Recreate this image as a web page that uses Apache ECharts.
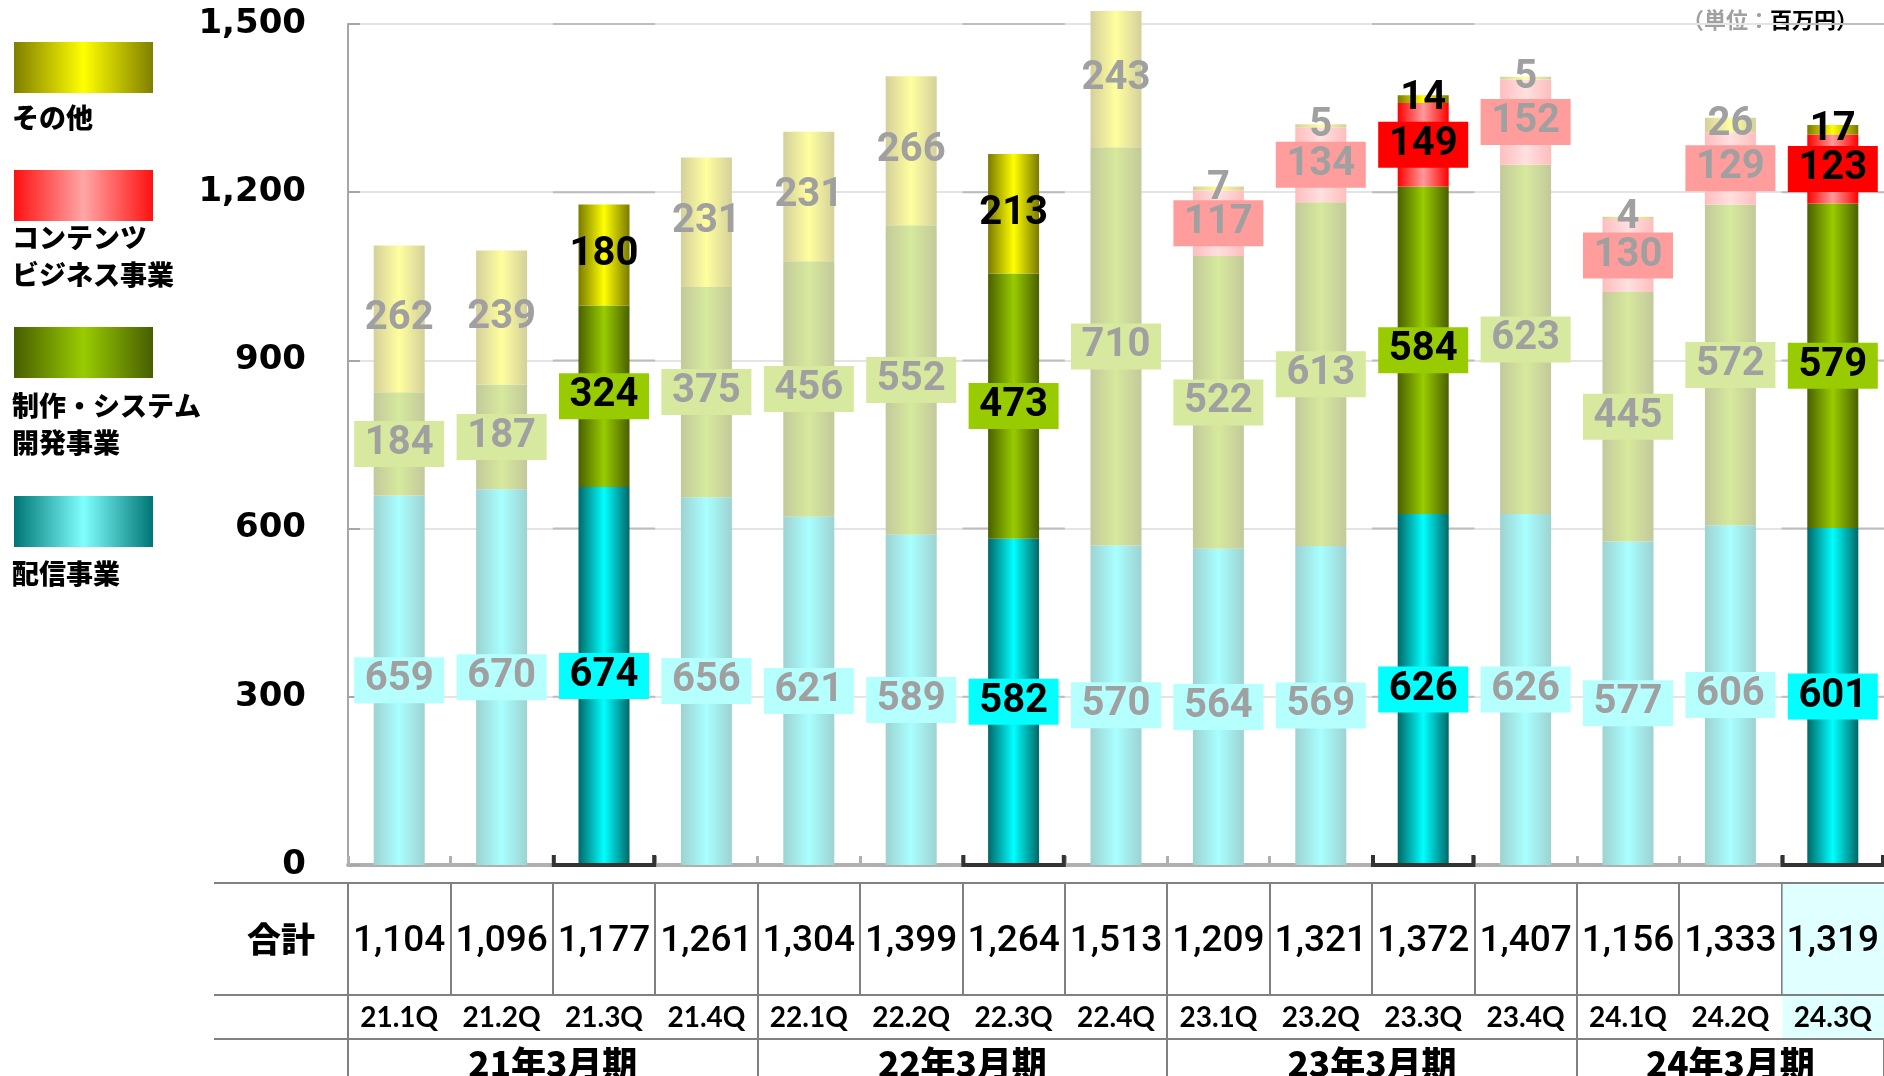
<!DOCTYPE html>
<html>
<head>
<meta charset="utf-8">
<script src="https://cdn.jsdelivr.net/npm/echarts@6/dist/echarts.min.js"></script>
<style>
  html, body { margin: 0; padding: 0; background: #fff; }
  #chart { width: 1884px; height: 1076px; }
</style>
</head>
<body>
<div id="chart"></div>
<script>
// ---- data (百万円) ----
const quarters = ['21.1Q','21.2Q','21.3Q','21.4Q','22.1Q','22.2Q','22.3Q','22.4Q','23.1Q','23.2Q','23.3Q','23.4Q','24.1Q','24.2Q','24.3Q'];
const fiscalYears = ['21年3月期','22年3月期','23年3月期','24年3月期'];
const distribution = [659, 670, 674, 656, 621, 589, 582, 570, 564, 569, 626, 626, 577, 606, 601];
const production   = [184, 187, 324, 375, 456, 552, 473, 710, 522, 613, 584, 623, 445, 572, 579];
const contents     = [null, null, null, null, null, null, null, null, 117, 134, 149, 152, 130, 129, 123];
const others       = [262, 239, 180, 231, 231, 266, 213, 243, 7, 5, 14, 5, 4, 26, 17];
const totals       = [1104, 1096, 1177, 1261, 1304, 1399, 1264, 1513, 1209, 1321, 1372, 1407, 1156, 1333, 1319];
const yTicks = [0, 300, 600, 900, 1200, 1500];
const focusQuarters = ['21.3Q','22.3Q','23.3Q','24.3Q'];
const currentQuarter = '24.3Q';
const seriesNames  = ['配信事業', '制作・システム開発事業', 'コンテンツビジネス事業', 'その他'];
const legendLabels = ['配信事業', '制作・システム\n開発事業', 'コンテンツ\nビジネス事業', 'その他'];
const totalLabel = '合計';
const unitLabel = ['（単位：', '百万円）'];

// ---- fonts ----
const NUM = 'Roboto,"Liberation Sans",sans-serif';
const CJK = '"Noto Sans CJK JP","Noto Sans CJK SC",sans-serif';
const GEO = '"DejaVu Sans",sans-serif';
const QFONT = 'Lato,"DejaVu Sans",sans-serif';

// ---- layout ----
const PLOT_LEFT = 348, PLOT_TOP = 24, AXIS_Y = 865;
const ROW1_TOP = 883, ROW2_TOP = 995, ROW3_TOP = 1039, H = 1076;
const TABLE_LEFT = 214;
const LINE = '#808080';

// ---- styling ----
const grad = (edge, mid) => new echarts.graphic.LinearGradient(0, 0, 1, 0, [
  { offset: 0, color: edge }, { offset: 0.5, color: mid }, { offset: 1, color: edge }
]);
const palette = [
  { strong: ['#006868', '#00ffff'], soft: ['#9ed2d2', '#a8ffff'], tagStrong: '#00ffff', tagSoft: '#b6ffff', legend: ['#007474', '#80ffff'] },
  { strong: ['#4a6000', '#99cc00'], soft: ['#c3c99b', '#d6e99c'], tagStrong: '#99cc00', tagSoft: '#d6e99f', legend: ['#475e00', '#99cc00'] },
  { strong: ['#ff0000', '#ff9a9a'], soft: ['#ffbdbd', '#ffe0e0'], tagStrong: '#ff0000', tagSoft: '#ff9d9d', legend: ['#ff1010', '#ffa6a6'] },
  { strong: ['#7a7a00', '#ffff00'], soft: ['#d4d09c', '#ffff9e'], tagStrong: null, tagSoft: null, legend: ['#7f7f00', '#ffff00'] }
];
const isFocus = i => focusQuarters.includes(quarters[i]);

function barSeries(idx, values) {
  const pal = palette[idx];
  return {
    name: seriesNames[idx], type: 'bar', stack: 'total', barWidth: 51, clip: false,
    xAxisIndex: 0, yAxisIndex: 0, z: 3,
    emphasis: { disabled: true },
    data: values.map((v, i) => {
      if (v == null) return '-';
      const hl = isFocus(i);
      const tag = hl ? pal.tagStrong : pal.tagSoft;
      const label = {
        show: true, position: 'inside', formatter: '{c}',
        color: hl ? '#000' : '#a0a0a0',
        fontFamily: NUM, fontWeight: 'bold', fontSize: 40, lineHeight: 42
      };
      if (tag) Object.assign(label, { backgroundColor: tag, width: 60, align: 'center', padding: [2, 15] });
      return { value: v, itemStyle: { color: hl ? grad(...pal.strong) : grad(...pal.soft) }, label };
    })
  };
}

// fiscal year spans from quarter prefixes
const fiscalSpans = fiscalYears.map(fy => {
  const prefix = fy.slice(0, 2) + '.';
  const idx = quarters.map((q, i) => q.startsWith(prefix) ? i : -1).filter(i => i >= 0);
  return [idx[0], idx[idx.length - 1], 0];
});

const chart = echarts.init(document.getElementById('chart'), null, { renderer: 'canvas' });

const catAxis = (gridIndex, extra) => Object.assign({
  type: 'category', gridIndex, data: quarters, boundaryGap: true,
  axisLine: { show: false }, axisTick: { show: false }, axisLabel: { show: false }, splitLine: { show: false }
}, extra);
const unitY = gridIndex => ({ type: 'value', gridIndex, min: 0, max: 1, show: false });

// legend blocks (top to bottom)
const legendOrder = [3, 2, 1, 0];
const legendBoxY = [42, 170, 327, 496];
const legendTextGap = [57, 49, 60, 59];
const legendGraphics = [];
legendOrder.forEach((s, k) => {
  legendGraphics.push({
    type: 'rect', left: 14, top: legendBoxY[k], shape: { width: 139, height: 51 },
    style: { fill: grad(...palette[s].legend) }
  });
  legendGraphics.push({
    type: 'text', left: 12, top: legendBoxY[k] + legendTextGap[k],
    style: { text: legendLabels[s], fill: '#000', font: `900 27px ${CJK}`, lineHeight: 37 }
  });
});

// table frame extensions into the label column
[ROW1_TOP, ROW2_TOP, ROW3_TOP].forEach(y => legendGraphics.push({
  type: 'line', shape: { x1: TABLE_LEFT, y1: y, x2: PLOT_LEFT, y2: y },
  style: { stroke: LINE, lineWidth: 2 }
}));

// unit note
legendGraphics.push({
  type: 'text', right: 26, top: 9,
  style: {
    text: `{g|${unitLabel[0]}}{b|${unitLabel[1]}}`,
    rich: {
      g: { fill: '#a0a0a0', font: `bold 22px ${CJK}` },
      b: { fill: '#000', font: `bold 22px ${CJK}` }
    }
  }
});

const textItem = (x, y, text, font) => ({
  type: 'text', x, y,
  style: { text, fill: '#000', font, align: 'center', verticalAlign: 'middle' }
});

chart.setOption({
  animation: false,
  backgroundColor: '#fff',
  grid: [
    { left: PLOT_LEFT, right: -2, top: PLOT_TOP, bottom: H - AXIS_Y },
    { left: PLOT_LEFT, right: -2, top: ROW1_TOP, height: ROW2_TOP - ROW1_TOP, show: true, borderColor: LINE, borderWidth: 2 },
    { left: PLOT_LEFT, right: -2, top: ROW2_TOP, height: ROW3_TOP - ROW2_TOP, show: true, borderColor: LINE, borderWidth: 2 },
    { left: PLOT_LEFT, right: -2, top: ROW3_TOP, bottom: -4 }
  ],
  xAxis: [
    {
      type: 'category', gridIndex: 0, data: quarters, boundaryGap: true,
      axisLine: { show: true, lineStyle: { color: '#b0b0b0', width: 4 } },
      axisTick: { show: true, inside: true, length: 9, lineStyle: { color: '#b0b0b0', width: 3 } },
      axisLabel: { show: false }
    },
    catAxis(1, { splitLine: { show: true, interval: 0, lineStyle: { color: LINE, width: 2 } } }),
    catAxis(2, { splitLine: { show: true, interval: (i, v) => v.endsWith('.1Q'), lineStyle: { color: LINE, width: 2 } } }),
    catAxis(3, { splitLine: { show: true, interval: (i, v) => v.endsWith('.1Q'), lineStyle: { color: LINE, width: 2 } } })
  ],
  yAxis: [
    {
      type: 'value', gridIndex: 0, min: yTicks[0], max: yTicks[yTicks.length - 1], interval: yTicks[1] - yTicks[0],
      axisLine: { show: true, lineStyle: { color: '#a6a6a6', width: 2 } },
      axisTick: { show: true, inside: true, length: 12, lineStyle: { color: '#a6a6a6', width: 2 } },
      splitLine: { show: true, lineStyle: { color: '#e4e4e4', width: 2 } },
      axisLabel: {
        margin: 42, color: '#000', fontFamily: GEO, fontWeight: 'bold', fontSize: 34,
        formatter: v => v.toLocaleString('en-US')
      }
    },
    {
      type: 'category', gridIndex: 1, data: [totalLabel],
      axisLine: { show: false }, axisTick: { show: false }, splitLine: { show: false },
      axisLabel: { margin: 33, color: '#000', fontFamily: CJK, fontWeight: 900, fontSize: 34 }
    },
    unitY(2),
    unitY(3)
  ],
  graphic: legendGraphics,
  series: [
    // darker gridline segments across the focus columns
    {
      type: 'custom', xAxisIndex: 0, yAxisIndex: 0, z: 1, silent: true, clip: false,
      data: quarters.map((q, i) => [i, 0]).filter(d => isFocus(d[0])),
      renderItem: (params, api) => {
        const i = api.value(0);
        const cx = api.coord([i, 0])[0];
        const w = api.size([1, 0])[0];
        return {
          type: 'group',
          children: yTicks.filter(v => v > 0).map(v => {
            const y = api.coord([i, v])[1];
            return { type: 'line', shape: { x1: cx - w / 2, y1: y, x2: cx + w / 2, y2: y }, style: { stroke: '#bdbdbd', lineWidth: 2 } };
          })
        };
      }
    },
    barSeries(0, distribution),
    barSeries(1, production),
    barSeries(2, contents),
    barSeries(3, others),
    // dark axis bracket under the focus columns
    {
      type: 'custom', xAxisIndex: 0, yAxisIndex: 0, z: 5, silent: true, clip: false,
      data: quarters.map((q, i) => [i, 0]).filter(d => isFocus(d[0])),
      renderItem: (params, api) => {
        const p = api.coord([api.value(0), 0]);
        const w = api.size([1, 0])[0];
        const x0 = p[0] - w / 2 + 1, x1 = p[0] + w / 2 - 1, y = p[1];
        return {
          type: 'polyline',
          shape: { points: [[x0, y - 10], [x0, y], [x1, y], [x1, y - 10]] },
          style: { stroke: '#333333', lineWidth: 4, fill: null }
        };
      }
    },
    // current-quarter shading in the table (rows 1 and 2)
    ...[1, 2].map(g => ({
      type: 'custom', xAxisIndex: g, yAxisIndex: g, z: 1, silent: true, clip: false,
      data: [[quarters.indexOf(currentQuarter), 0]],
      renderItem: (params, api) => {
        const cx = api.coord([api.value(0), 0])[0];
        const w = api.size([1, 0])[0];
        const cs = params.coordSys;
        return { type: 'rect', shape: { x: cx - w / 2 + 1, y: cs.y + 1, width: w, height: cs.height - 2 }, style: { fill: '#e0ffff' } };
      }
    })),
    // totals row
    {
      type: 'custom', xAxisIndex: 1, yAxisIndex: 1, z: 4, silent: true, clip: false,
      data: totals.map((t, i) => [i, 0, t]),
      renderItem: (params, api) => {
        const p = api.coord([api.value(0), 0]);
        return textItem(p[0], p[1] + 3, api.value(2).toLocaleString('en-US'), `500 37px ${NUM}`);
      }
    },
    // quarter row
    {
      type: 'custom', xAxisIndex: 2, yAxisIndex: 2, z: 4, silent: true, clip: false,
      data: quarters.map((q, i) => [i, 0.5]),
      renderItem: (params, api) => {
        const p = api.coord([api.value(0), api.value(1)]);
        return textItem(p[0], p[1] + 1, quarters[params.dataIndex], `bold 28px ${QFONT}`);
      }
    },
    // fiscal year row
    {
      type: 'custom', xAxisIndex: 3, yAxisIndex: 3, z: 4, silent: true, clip: false,
      data: fiscalSpans,
      renderItem: (params, api) => {
        const a = api.coord([api.value(0), 0])[0];
        const b = api.coord([api.value(1), 0])[0];
        const cs = params.coordSys;
        return textItem((a + b) / 2, cs.y + 25, fiscalYears[params.dataIndex], `900 35px ${CJK}`);
      }
    }
  ]
});
</script>
</body>
</html>
